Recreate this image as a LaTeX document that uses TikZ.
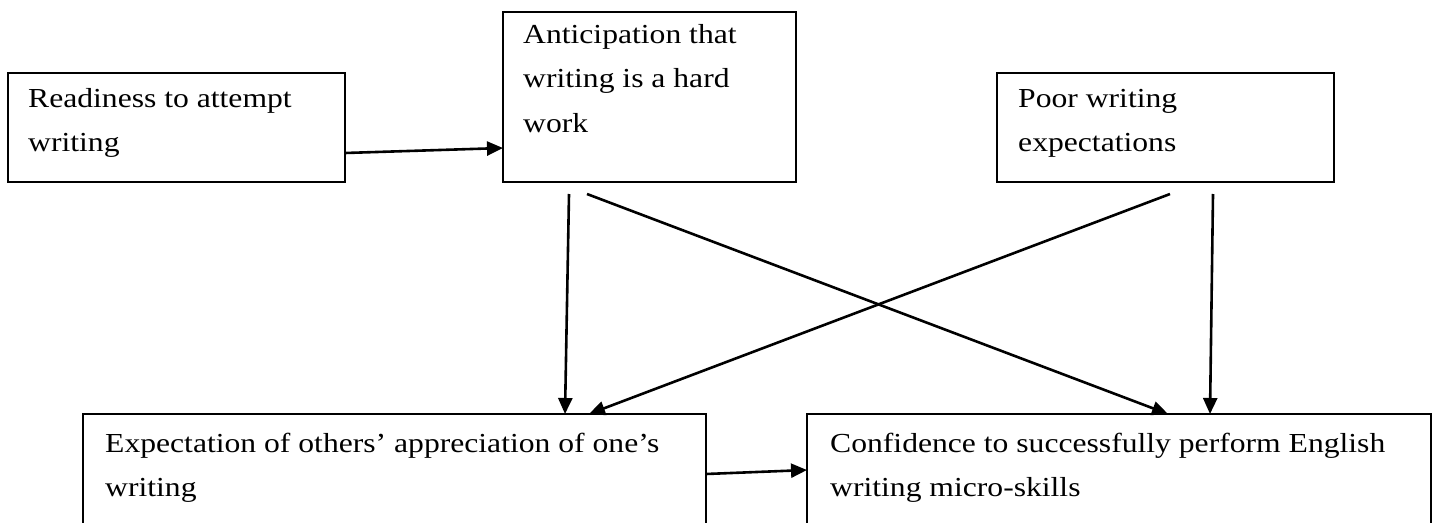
\documentclass[tikz,border=0pt]{standalone}
\usepackage{fontspec}
\setmainfont{Liberation Serif}[FakeStretch=1.15]
\usetikzlibrary{arrows.meta,calc}
\begin{document}
\begin{tikzpicture}[x=1pt,y=-1pt,
  boxnode/.style={draw=black, line width=1.8pt, rectangle, inner sep=0pt, outer sep=0pt, anchor=north west},
  labeltext/.style={anchor=north west, inner sep=0pt, align=left, font=\fontsize{27.5}{44.5}\selectfont},
  arr/.style={line width=2.6pt, -{Triangle[length=16pt,width=14pt]}}]
\useasboundingbox (0,0) rectangle (1439,522);
\clip (0,0) rectangle (1439,522);
% boxes
\node[boxnode, minimum width=337pt, minimum height=109pt] (b1) at (8,73) {};
\node[boxnode, minimum width=293pt, minimum height=170pt] (b2) at (503,12) {};
\node[boxnode, minimum width=337pt, minimum height=109pt] (b3) at (997,73) {};
\node[boxnode, minimum width=623pt, minimum height=130pt] (b4) at (83,414) {};
\node[boxnode, minimum width=624pt, minimum height=130pt] (b5) at (807,414) {};
% texts
\node[labeltext] (t1) at (28,75.85) {\strut Readiness to attempt\\writing};
\node[labeltext] (t2) at (523,11.85) {\strut Anticipation that\\writing is a hard\\work};
\node[labeltext] (t3) at (1018,75.85) {\strut Poor writing\\expectations};
\node[labeltext] (t4) at (105,420.85) {\strut Expectation of others’ appreciation of one’s\\writing};
\node[labeltext] (t5) at (830,420.85) {\strut Confidence to successfully perform English\\writing micro-skills};
% connectors
\draw[arr] ($(b1.north east)+(0,80)$) -- ($(b2.north west)+(0,136)$);
\draw[arr] ($(b2.south west)+(66,12)$) -- ($(b4.north west)+(482,0)$);
\draw[arr] ($(b2.south west)+(84,12)$) -- ($(b5.north west)+(361,0)$);
\draw[arr] ($(b3.south west)+(173,12)$) -- ($(b4.north west)+(506,0)$);
\draw[arr] ($(b3.south west)+(216,12)$) -- ($(b5.north west)+(403,0)$);
\draw[arr] ($(b4.north east)+(0,60)$) -- ($(b5.north west)+(0,56)$);
\end{tikzpicture}
\end{document}
